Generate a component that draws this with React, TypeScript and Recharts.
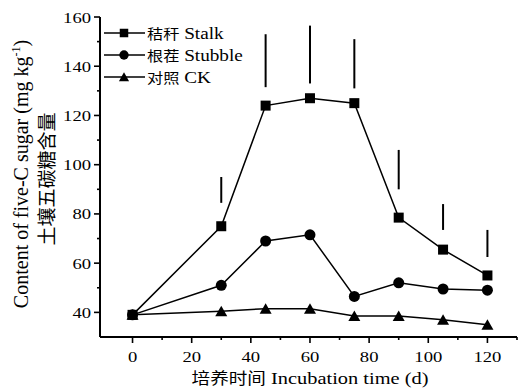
import React from 'react';
import { LineChart, Line, XAxis, YAxis, ReferenceLine, Legend, Label } from 'recharts';

const days = [0, 30, 45, 60, 75, 90, 105, 120];
const stalk = [39, 75, 124, 127, 125, 78.5, 65.5, 55];
const stubble = [39, 51, 69, 71.5, 46.5, 52, 49.5, 49];
const control = [39, 40.5, 41.5, 41.5, 38.5, 38.5, 37, 35];
// LSD bars drawn above the stalk curve
const lsdLow = [null, 84.5, 131.5, 133, 131, 90, 73.5, 62.5];
const lsdHigh = [null, 95, 153, 156.5, 151, 106, 84, 73.5];

const xTicks = [0, 10, 20, 30, 40, 50, 60, 70, 80, 90, 100, 110, 120, 130];
const yTicks = [40, 50, 60, 70, 80, 90, 100, 110, 120, 130, 140, 150, 160];

const seriesList = [
  { key: 'stalk', cn: '秸秆', en: 'Stalk', marker: 'square' },
  { key: 'stubble', cn: '根茬', en: 'Stubble', marker: 'circle' },
  { key: 'control', cn: '对照', en: 'CK', marker: 'triangle' },
];

const data = days.map((d, i) => ({
  day: d,
  stalk: stalk[i],
  stubble: stubble[i],
  control: control[i],
}));

const FONT = "'Liberation Serif', 'Times New Roman', 'Noto Sans CJK SC', serif";
const txt = { fontFamily: FONT, fill: '#000' };

function Marker({ kind, cx, cy, s = 1 }: { kind: string; cx: number; cy: number; s?: number }) {
  if (kind === 'square') {
    return <rect x={cx - 5 * s} y={cy - 5 * s} width={10 * s} height={10 * s} fill="#000" />;
  }
  if (kind === 'circle') {
    return <circle cx={cx} cy={cy} r={5.5 * s} fill="#000" />;
  }
  const w = 6 * s;
  return (
    <polygon
      points={`${cx - w},${cy + 5 * s} ${cx + w},${cy + 5 * s} ${cx},${cy - 5.5 * s}`}
      fill="#000"
    />
  );
}

const dotFor = (kind: string) => (p: any) => (
  <Marker key={`${kind}-${p.index}`} kind={kind} cx={p.cx} cy={p.cy} />
);

const XTick = ({ x, y, payload }: any) => {
  const v = payload.value;
  const major = v % 20 === 0 && v <= 120;
  return (
    <g>
      <line x1={x} x2={x} y1={y} y2={y + (major ? 6 : 3)} stroke="#000" strokeWidth={1.6} />
      {major && (
        <text
          transform={`translate(${x},${y + 25}) scale(1.2,1)`}
          textAnchor="middle"
          style={{ ...txt, fontSize: 15.5 }}
        >
          {v}
        </text>
      )}
    </g>
  );
};

const YTick = ({ x, y, payload }: any) => {
  const v = payload.value;
  const major = v % 20 === 0;
  return (
    <g>
      <line x1={x} x2={x - (major ? 6 : 3)} y1={y} y2={y} stroke="#000" strokeWidth={1.6} />
      {major && (
        <text
          transform={`translate(${x - 9},${y + 5.5}) scale(1.2,1)`}
          textAnchor="end"
          style={{ ...txt, fontSize: 15.5 }}
        >
          {v}
        </text>
      )}
    </g>
  );
};

const renderLegend = () => (
  <svg width={140} height={66} style={{ display: 'block' }}>
    {seriesList.map((s, i) => {
      const cy = 11 + i * 22;
      return (
        <g key={s.key}>
          <line x1={1} x2={42} y1={cy} y2={cy} stroke="#000" strokeWidth={1.5} />
          <Marker kind={s.marker} cx={21} cy={cy} s={0.85} />
          <text transform={`translate(44,${cy + 5.5}) scale(1.2,1)`} style={txt}>
            <tspan style={{ fontSize: 13.5 }}>{s.cn}</tspan>
            <tspan style={{ fontSize: 16 }}> {s.en}</tspan>
          </text>
        </g>
      );
    })}
  </svg>
);

export default function App() {
  return (
    <div style={{ position: 'absolute', left: 0, top: 0, width: 520, height: 389, background: '#fff' }}>
      <LineChart
        width={520}
        height={389}
        data={data}
        margin={{ top: 17, right: 3, left: 0, bottom: 22 }}
      >
        <XAxis
          dataKey="day"
          type="number"
          domain={[-11, 130]}
          ticks={xTicks}
          interval={0}
          tickSize={0}
          tickMargin={0}
          tick={<XTick />}
          height={30}
          axisLine={{ stroke: '#000', strokeWidth: 2 }}
          tickLine={false}
        >
          <Label
            content={() => (
              <text transform="translate(310,384) scale(1.2,1)" textAnchor="middle" style={txt}>
                <tspan style={{ fontSize: 15.5 }}>培养时间</tspan>
                <tspan style={{ fontSize: 17 }}> Incubation time (d)</tspan>
              </text>
            )}
          />
        </XAxis>
        <YAxis
          type="number"
          domain={[30, 160]}
          ticks={yTicks}
          interval={0}
          tickSize={0}
          tickMargin={0}
          tick={<YTick />}
          width={100}
          axisLine={{ stroke: '#000', strokeWidth: 2 }}
          tickLine={false}
        >
          <Label
            content={() => (
              <g>
                <text
                  transform="translate(28,174) rotate(-90)"
                  textAnchor="middle"
                  style={{ ...txt, fontSize: 20 }}
                >
                  Content of five-C sugar (mg kg
                  <tspan style={{ fontSize: 12 }} dy={-8}>-1</tspan>
                  <tspan dy={8}>)</tspan>
                </text>
                <text
                  transform="translate(54,179) rotate(-90)"
                  textAnchor="middle"
                  style={{ ...txt, fontSize: 19 }}
                >
                  土壤五碳糖含量
                </text>
              </g>
            )}
          />
        </YAxis>
        <Legend
          layout="vertical"
          align="center"
          verticalAlign="middle"
          content={renderLegend}
          wrapperStyle={{ position: 'absolute', left: 103, top: 22, width: 140 }}
        />
        {days.map((d, i) =>
          lsdLow[i] != null ? (
            <ReferenceLine
              key={`lsd-${d}`}
              segment={[
                { x: d, y: lsdLow[i] as number },
                { x: d, y: lsdHigh[i] as number },
              ]}
              stroke="#000"
              strokeWidth={2}
            />
          ) : null
        )}
        <Line
          dataKey="control"
          name="对照 CK"
          stroke="#000"
          strokeWidth={1.5}
          dot={dotFor('triangle')}
          activeDot={false}
          isAnimationActive={false}
        />
        <Line
          dataKey="stubble"
          name="根茬 Stubble"
          stroke="#000"
          strokeWidth={1.5}
          dot={dotFor('circle')}
          activeDot={false}
          isAnimationActive={false}
        />
        <Line
          dataKey="stalk"
          name="秸秆 Stalk"
          stroke="#000"
          strokeWidth={1.5}
          dot={dotFor('square')}
          activeDot={false}
          isAnimationActive={false}
        />
      </LineChart>
    </div>
  );
}
